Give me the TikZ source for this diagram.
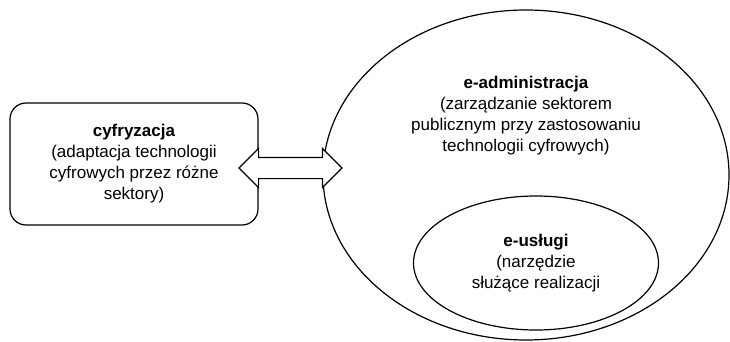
\documentclass[tikz,border=0pt]{standalone}
\usepackage{fontspec}
\setmainfont{Liberation Sans}
\usetikzlibrary{shapes.geometric,shapes.arrows}

\begin{document}
\begin{tikzpicture}[x=1pt,y=-1pt, line width=1.2pt, font=\fontsize{17}{21}\selectfont]
\useasboundingbox (0,0) rectangle (730,342);

\node[draw, ellipse, minimum width=406, minimum height=330, inner sep=0] (eadm) at (526,175) {};
\node[align=center] (eadmtxt) at (526,116) {\textbf{e-administracja}\\(zarządzanie sektorem\\publicznym przy zastosowaniu\\technologii cyfrowych)};

\node[draw, ellipse, minimum width=245, minimum height=134, inner sep=0, align=center] (eusl) at (536,263) {\textbf{e-usługi}\\(narzędzie\\służące realizacji};

\node[draw, rounded corners=16pt, minimum width=248, minimum height=122, align=center] (cyfr) at (134,164) {\textbf{cyfryzacja}\\(adaptacja technologii\\cyfrowych przez różne\\sektory)};

\node[draw, fill=white, double arrow, double arrow head extend=9pt, double arrow head indent=0pt, inner xsep=0pt, inner ysep=10pt, minimum height=103] (arr) at (290.5,168) {};
%\draw (cyfr.east) -- (eadm.west);

\end{tikzpicture}
\end{document}
